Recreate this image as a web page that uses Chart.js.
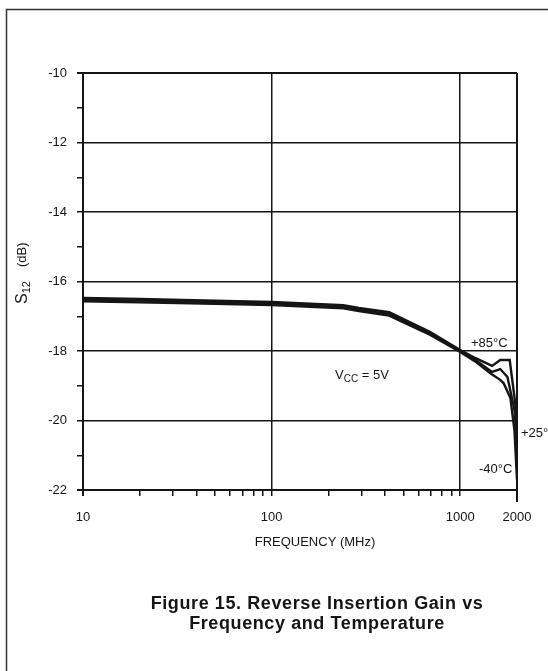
<!DOCTYPE html>
<html>
<head>
<meta charset="utf-8">
<script src="https://cdn.jsdelivr.net/npm/chart.js@4.4.1/dist/chart.umd.min.js"></script>
<style>
  html, body { margin: 0; padding: 0; background: #fff; }
  canvas { display: block; }
</style>
</head>
<body>
<canvas id="chart" width="548" height="671"></canvas>
<script>
(function() {
    'use strict';

    // Tick positions on the log frequency axis (MHz)
    const freqTicks = [10, 20, 30, 40, 50, 60, 70, 80, 90, 100, 200, 300, 400, 500, 600, 700, 800, 900, 1000, 2000];
    const freqLabels = [10, 100, 1000, 2000];
    const gainTicks = [-10, -11, -12, -13, -14, -15, -16, -17, -18, -19, -20, -21, -22];

    // S12 (dB), one pair of arrays per temperature
    const freq85 = [10, 20, 50, 100, 240, 290, 420, 690, 1000, 1200, 1475, 1630, 1830, 2000];
    const gain85 = [-16.47, -16.50, -16.55, -16.59, -16.68, -16.76, -16.88, -17.45, -17.97, -18.20, -18.43, -18.26, -18.26, -19.90];

    const freq25 = [10, 20, 50, 100, 240, 290, 420, 690, 1000, 1200, 1475, 1630, 1780, 1940, 2000];
    const gain25 = [-16.52, -16.55, -16.59, -16.63, -16.72, -16.80, -16.93, -17.49, -18.00, -18.25, -18.60, -18.52, -18.75, -19.70, -20.60];

    const freq40 = [10, 20, 50, 100, 240, 290, 420, 690, 1000, 1200, 1450, 1630, 1700, 1845, 1940, 2000];
    const gain40 = [-16.57, -16.60, -16.64, -16.68, -16.77, -16.85, -16.98, -17.53, -18.03, -18.30, -18.65, -18.83, -18.93, -19.35, -20.30, -21.70];

    const INK = '#151515';
    const FONT = '"Liberation Sans", Arial, Helvetica, sans-serif';

    function toPoints(xs, ys) {
        return xs.map((x, i) => ({ x: x, y: ys[i] }));
    }

    function curve(label, xs, ys) {
        return {
            label: label,
            data: toPoints(xs, ys),
            borderColor: INK,
            borderWidth: 2.4,
            pointRadius: 0,
            tension: 0,
            fill: false
        };
    }

    // Page frame, axis titles, annotations and caption
    const decorations = {
        id: 'decorations',
        beforeDraw(chart) {
            const ctx = chart.ctx;
            ctx.save();
            ctx.fillStyle = '#fff';
            ctx.fillRect(0, 0, chart.width, chart.height);
            ctx.strokeStyle = '#333';
            ctx.lineWidth = 1.5;
            ctx.beginPath();
            ctx.moveTo(6.5, chart.height);
            ctx.lineTo(6.5, 9.5);
            ctx.lineTo(chart.width, 9.5);
            ctx.stroke();
            ctx.restore();
        },
        afterDraw(chart) {
            const ctx = chart.ctx;
            const xs = chart.scales.x;
            ctx.save();
            ctx.fillStyle = INK;
            ctx.strokeStyle = INK;
            ctx.textBaseline = 'alphabetic';

            // longer end tick under 2000
            const xEnd = xs.getPixelForValue(2000);
            ctx.lineWidth = 2;
            ctx.beginPath();
            ctx.moveTo(xEnd, xs.top);
            ctx.lineTo(xEnd, xs.top + 12);
            ctx.stroke();

            // y axis title: S12 (dB), rotated
            ctx.save();
            ctx.translate(27, 304);
            ctx.rotate(-Math.PI / 2);
            ctx.textAlign = 'left';
            ctx.font = '16px ' + FONT;
            ctx.fillText('S', 0, 0);
            let w = ctx.measureText('S').width;
            ctx.font = '11px ' + FONT;
            ctx.fillText('12', w, 3);
            w += ctx.measureText('12').width + 14;
            ctx.font = '13px ' + FONT;
            ctx.fillText('(dB)', w, -1);
            ctx.restore();

            // x axis title
            ctx.textAlign = 'center';
            ctx.font = '13px ' + FONT;
            ctx.fillText('FREQUENCY (MHz)', 315, 546);

            // supply note
            ctx.textAlign = 'left';
            ctx.font = '13px ' + FONT;
            ctx.fillText('V', 335, 379);
            let vw = ctx.measureText('V').width;
            ctx.font = '10px ' + FONT;
            ctx.fillText('CC', 335 + vw, 382);
            vw += ctx.measureText('CC').width;
            ctx.font = '13px ' + FONT;
            ctx.fillText(' = 5V', 335 + vw, 379);

            // curve labels
            ctx.fillText('+85\u00B0C', 471, 347);
            ctx.fillText('+25\u00B0C', 521, 437);
            ctx.fillText('-40\u00B0C', 479, 473);

            // caption
            ctx.textAlign = 'center';
            ctx.font = 'bold 18px ' + FONT;
            if ('letterSpacing' in ctx) ctx.letterSpacing = '0.6px';
            ctx.fillText('Figure 15. Reverse Insertion Gain vs', 317, 609);
            ctx.fillText('Frequency and Temperature', 317, 629);

            ctx.restore();
        }
    };

    const canvas = document.getElementById('chart');

    new Chart(canvas, {
        type: 'line',
        data: {
            datasets: [
                curve('+85\u00B0C', freq85, gain85),
                curve('+25\u00B0C', freq25, gain25),
                curve('-40\u00B0C', freq40, gain40)
            ]
        },
        options: {
            responsive: false,
            animation: false,
            devicePixelRatio: 1,
            layout: { padding: { left: 0, top: 73, right: 31, bottom: 0 } },
            plugins: {
                legend: { display: false },
                tooltip: { enabled: false },
                title: { display: false }
            },
            scales: {
                x: {
                    type: 'logarithmic',
                    min: 10,
                    max: 2000,
                    afterBuildTicks: function(scale) {
                        scale.ticks = freqTicks.map(v => ({ value: v }));
                    },
                    afterFit: function(scale) {
                        scale.height = 181;
                    },
                    border: { display: true, color: INK, width: 2 },
                    grid: {
                        color: function(c) {
                            return c.tick && freqLabels.includes(c.tick.value) ? INK : 'rgba(0,0,0,0)';
                        },
                        tickColor: INK,
                        lineWidth: function(c) {
                            const v = c.tick && c.tick.value;
                            return (v === 10 || v === 2000) ? 2 : 1.5;
                        },
                        tickLength: 6,
                        drawOnChartArea: true
                    },
                    ticks: {
                        autoSkip: false,
                        maxRotation: 0,
                        padding: 14,
                        color: INK,
                        font: { family: FONT, size: 13 },
                        callback: function(value) {
                            return freqLabels.includes(value) ? String(value) : '';
                        }
                    }
                },
                y: {
                    type: 'linear',
                    min: -22,
                    max: -10,
                    afterBuildTicks: function(scale) {
                        scale.ticks = gainTicks.map(v => ({ value: v }));
                    },
                    afterFit: function(scale) {
                        scale.width = 83;
                    },
                    border: { display: true, color: INK, width: 2 },
                    grid: {
                        color: function(c) {
                            return c.tick && c.tick.value % 2 === 0 ? INK : 'rgba(0,0,0,0)';
                        },
                        tickColor: INK,
                        lineWidth: function(c) {
                            const v = c.tick && c.tick.value;
                            return (v === -10 || v === -22) ? 2 : 1.5;
                        },
                        tickLength: 6
                    },
                    ticks: {
                        autoSkip: false,
                        padding: 10,
                        color: INK,
                        font: { family: FONT, size: 13 },
                        callback: function(value) {
                            return value % 2 === 0 ? String(value) : '';
                        }
                    }
                }
            }
        },
        plugins: [decorations]
    });
})();
</script>
</body>
</html>
